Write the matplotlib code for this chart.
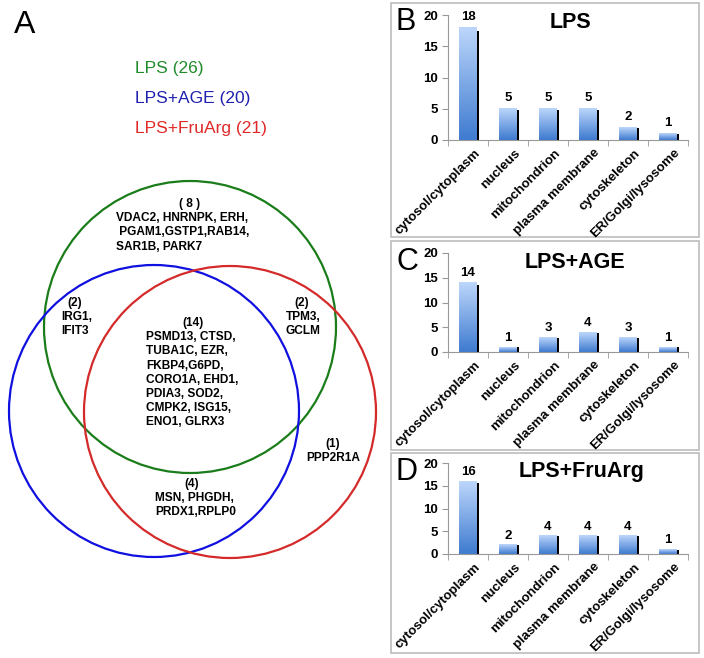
import numpy as np
import matplotlib
matplotlib.use("Agg")
import matplotlib.pyplot as plt
from matplotlib.patches import Ellipse, Rectangle
from matplotlib.colors import LinearSegmentedColormap

plt.rcParams['font.family'] = ['Liberation Sans', 'DejaVu Sans']

# ---------------- data ----------------
categories = ['cytosol/cytoplasm', 'nucleus', 'mitochondrion',
              'plasma membrane', 'cytoskeleton', 'ER/Golgi/lysosome']
lps_counts = [18, 5, 5, 5, 2, 1]
lps_age_counts = [14, 1, 3, 4, 3, 1]
lps_fruarg_counts = [16, 2, 4, 4, 4, 1]
panel_titles = ['LPS', 'LPS+AGE', 'LPS+FruArg']
panel_letters = ['B', 'C', 'D']
y_ticks = [0, 5, 10, 15, 20]

legend_labels = ['LPS (26)', 'LPS+AGE (20)', 'LPS+FruArg (21)']
set_colors = ['#1f8a2a', '#2020b0', '#e02828']
circle_colors = ['#1a7d1a', '#1010e0', '#d42a2a']

venn_groups = [
    ('( 8 )', ['VDAC2, HNRNPK, ERH,', ' PGAM1,GSTP1,RAB14,', 'SAR1B, PARK7']),
    ('(2)', ['IRG1,', 'IFIT3']),
    ('(14)', ['PSMD13, CTSD,', 'TUBA1C, EZR,', 'FKBP4,G6PD,', 'CORO1A, EHD1,',
              'PDIA3, SOD2,', 'CMPK2, ISG15,', 'ENO1, GLRX3']),
    ('(2)', ['TPM3,', 'GCLM']),
    ('(1)', ['PPP2R1A']),
    ('(4)', ['MSN, PHGDH,', 'PRDX1,RPLP0']),
]

W, H = 704, 658
fig = plt.figure(figsize=(W / 100, H / 100), dpi=100)

# ---------------- Venn (pixel coordinates) ----------------
axv = fig.add_axes([0, 0, 1, 1])
axv.set_xlim(0, W)
axv.set_ylim(H, 0)
axv.axis('off')
axv.patch.set_visible(False)

axv.text(14, 25, 'A', fontsize=23, ha='left', va='center', color='black')
for i, (lab, col) in enumerate(zip(legend_labels, set_colors)):
    axv.text(135, 69 + 30 * i, lab, fontsize=12.5, color=col, ha='left', va='center')

circles = [((190, 327), 292, 292), ((154, 411), 290, 292), ((230, 412), 292, 292)]
for (c, w, h), col in zip(circles, circle_colors):
    axv.add_patch(Ellipse(c, w, h, fill=False, edgecolor=col, lw=1.6))

# group label positions: (header x, header y, body x, body align)
positions = [
    (190, 204, 116, 'left'),
    (75, 303, 61, 'left'),
    (193, 323, 146, 'left'),
    (302, 303, 286, 'left'),
    (333, 444, 333, 'center'),
    (192, 484, 155, 'left'),
]
lh = 14.2
for (hdr, lines), (hx, hy, bx, al) in zip(venn_groups, positions):
    axv.text(hx, hy, hdr, fontsize=8.6, fontweight='bold', ha='center', va='center')
    for j, ln in enumerate(lines):
        axv.text(bx, hy + lh * (j + 1), ln, fontsize=8.6, fontweight='bold',
                 ha=al, va='center')

# panel frames
frames = [(391, 3, 699, 237), (391, 241, 699, 450), (391, 453, 699, 653)]
for (x0, y0, x1, y1) in frames:
    axv.add_patch(Rectangle((x0, y0), x1 - x0, y1 - y0, fill=False,
                            edgecolor='#bcbcbc', lw=1.2))

# ---------------- bar panels ----------------
axes_px = [(448, 688, 15, 140), (448, 688, 253, 352), (448, 688, 463, 554)]
title_px = [(570, 22), (575, 262), (582, 472)]
letter_px = [(396, 22), (396, 262), (396, 472)]
all_counts = [lps_counts, lps_age_counts, lps_fruarg_counts]

grad = np.linspace(0, 1, 64).reshape(-1, 1)
bar_cmap = LinearSegmentedColormap.from_list('b', ['#3f7bd0', '#bcd6fb'])

x = np.arange(len(categories))
bw = 0.45
for counts, (l, r, t, b), tpos, lpos, ttl, let in zip(all_counts, axes_px, title_px,
                                                     letter_px, panel_titles, panel_letters):
    ax = fig.add_axes([l / W, 1 - b / H, (r - l) / W, (b - t) / H])
    for xi, h in zip(x, counts):
        ax.imshow(grad, extent=[xi - bw / 2, xi + bw / 2, 0, h], origin='lower',
                  cmap=bar_cmap, aspect='auto', zorder=2)
        ax.bar(xi + bw / 2 + 0.025, h * 0.97, width=0.05, color='black', zorder=2)
        ax.text(xi, h + 0.7, str(h), ha='center', va='bottom', fontsize=9.5,
                fontweight='bold')
    ax.set_xlim(-0.5, len(categories) - 0.5)
    ax.set_ylim(0, 20)
    ax.set_yticks(y_ticks)
    ax.set_yticklabels([str(v) for v in y_ticks], fontsize=9.5, fontweight='bold')
    ax.set_xticks(x + 0.15)
    ax.set_xticklabels(categories, rotation=45, ha='right', rotation_mode='anchor',
                       fontsize=9.5, fontweight='bold')
    ax.set_xticks(np.arange(-0.5, len(categories), 1), minor=True)
    ax.tick_params(axis='x', which='major', length=0, pad=5)
    ax.tick_params(axis='x', which='minor', length=4, color='#999999')
    ax.tick_params(axis='y', length=4, color='#999999', pad=3)
    for s in ['top', 'right']:
        ax.spines[s].set_visible(False)
    for s in ['left', 'bottom']:
        ax.spines[s].set_color('#999999')
    ax.patch.set_visible(False)
    fig.text(tpos[0] / W, 1 - tpos[1] / H, ttl, fontsize=15.5, fontweight='bold',
             ha='center', va='center')
    fig.text(lpos[0] / W, 1 - lpos[1] / H, let, fontsize=22, ha='left', va='center')

fig.savefig('out.png', dpi=100)
